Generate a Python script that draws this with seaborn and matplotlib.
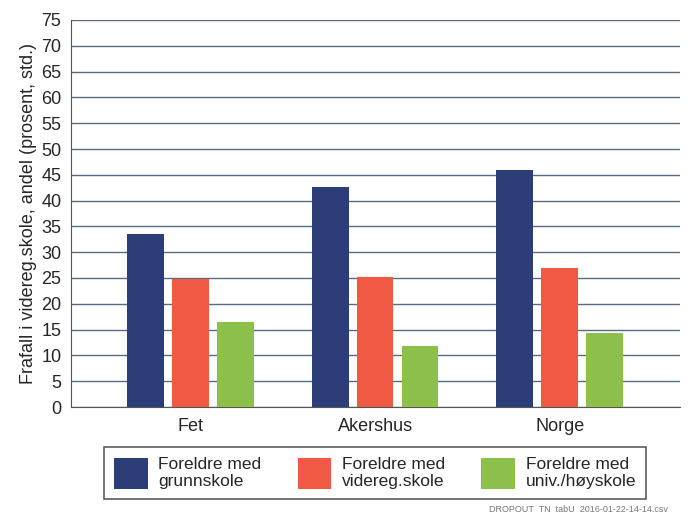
import matplotlib
matplotlib.use("Agg")
import matplotlib.pyplot as plt
from matplotlib.patches import Patch
import seaborn as sns
import pandas as pd

regions = ["Fet", "Akershus", "Norge"]
groups = ["Foreldre med\ngrunnskole", "Foreldre med\nvidereg.skole", "Foreldre med\nuniv./høyskole"]
grunnskole = [33.5, 42.6, 45.9]
videreg = [24.8, 25.1, 26.9]
univ = [16.5, 11.8, 14.4]
colors = ["#2C3E78", "#F05A45", "#8CC04B"]
yticks = list(range(0, 80, 5))

rows = []
for g, vals in zip(groups, [grunnskole, videreg, univ]):
    for r, v in zip(regions, vals):
        rows.append({"region": r, "group": g, "value": v})
df = pd.DataFrame(rows)

sns.set_style("white")
plt.rcParams["font.family"] = ["Liberation Sans", "DejaVu Sans"]

fig = plt.figure(figsize=(6.89, 5.16), dpi=100)
ax = fig.add_axes([71/689, 1 - 407/516, (680-71)/689, (407-20)/516])

sns.barplot(data=df, x="region", y="value", hue="group", order=regions,
            hue_order=groups, palette=colors, width=0.73, gap=0.18,
            saturation=1, ax=ax, legend=False, zorder=3, linewidth=0)

ax.set_ylim(0, 75)
ax.set_xlim(-0.645, 2.65)
ax.set_yticks(yticks)
ax.set_yticklabels([str(t) for t in yticks], fontsize=13)
ax.yaxis.grid(True, color="#5A6A80", linewidth=1.0)
ax.set_axisbelow(True)
ax.tick_params(axis="y", direction="out", length=5, width=0.8, color="#555555", pad=2)
ax.tick_params(axis="x", length=0, labelsize=13, pad=8)
ax.set_xlabel("")
ax.set_ylabel("Frafall i videreg.skole, andel (prosent, std.)", fontsize=13, labelpad=3)
for s in ["top", "right"]:
    ax.spines[s].set_visible(False)
ax.spines["left"].set_color("#555555")
ax.spines["bottom"].set_color("#555555")

handles = [Patch(facecolor=c, edgecolor="none") for c in colors]
leg = fig.legend(handles, groups, ncol=3, loc="center", bbox_to_anchor=(375/689, 1 - 473/516),
                 frameon=True, fancybox=False, edgecolor="#333333", fontsize=12.5,
                 handlelength=1.95, handleheight=2.35, handletextpad=0.6,
                 columnspacing=2.1, borderpad=0.55, borderaxespad=0)
leg.get_frame().set_linewidth(1.2)

fig.text(668/689, 1 - 510/516, "DROPOUT  TN  tabU  2016-01-22-14-14.csv",
         ha="right", va="center", fontsize=6.5, color="#777777")

fig.savefig("out.png", dpi=100)
